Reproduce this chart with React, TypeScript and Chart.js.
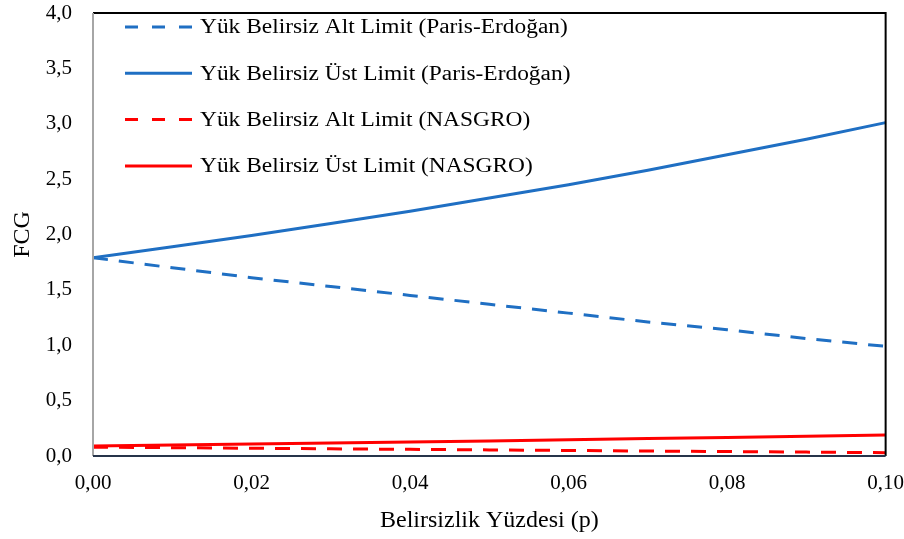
import React, { useEffect, useRef } from "react";
import { Chart, registerables } from "chart.js";

Chart.register(...registerables);

const xValues = [0, 0.01, 0.02, 0.03, 0.04, 0.05, 0.06, 0.07, 0.08, 0.09, 0.1];
const pxAltLimit = [1.79, 1.7, 1.61, 1.53, 1.45, 1.37, 1.29, 1.21, 1.14, 1.06, 0.99];
const pxUstLimit = [1.79, 1.89, 1.99, 2.1, 2.21, 2.33, 2.45, 2.58, 2.72, 2.86, 3.01];
const nasAltLimit = [0.08, 0.075, 0.07, 0.065, 0.06, 0.055, 0.05, 0.045, 0.04, 0.035, 0.03];
const nasUstLimit = [0.09, 0.099, 0.108, 0.117, 0.126, 0.136, 0.146, 0.157, 0.168, 0.179, 0.19];
const xTicks = [0, 0.02, 0.04, 0.06, 0.08, 0.1];
const seriesNames = [
  "Yük Belirsiz Alt Limit (Paris-Erdoğan)",
  "Yük Belirsiz Üst Limit (Paris-Erdoğan)",
  "Yük Belirsiz Alt Limit (NASGRO)",
  "Yük Belirsiz Üst Limit (NASGRO)",
];

const BLUE = "#1F6FC3";
const RED = "#FF0000";
const FONT = "'Liberation Serif', 'Times New Roman', serif";
const DASH = [15, 11];
const LEGEND_DASH = [13, 14];

const toPts = (ys: number[]) => ys.map((y, i) => ({ x: xValues[i], y }));

const framePlugin = {
  id: "frame",
  afterDraw(chart: any) {
    const { ctx, chartArea: a } = chart;
    ctx.save();
    ctx.lineWidth = 2;
    ctx.strokeStyle = "#000";
    ctx.beginPath();
    ctx.moveTo(a.left, a.top);
    ctx.lineTo(a.right, a.top);
    ctx.lineTo(a.right, a.bottom);
    ctx.stroke();
    ctx.strokeStyle = "#A6A6A6";
    ctx.beginPath();
    ctx.moveTo(a.left, a.top);
    ctx.lineTo(a.left, a.bottom);
    ctx.stroke();
    ctx.strokeStyle = "#26344A";
    ctx.beginPath();
    ctx.moveTo(a.left, a.bottom);
    ctx.lineTo(a.right, a.bottom);
    ctx.stroke();
    ctx.restore();
  },
};

const legendPlugin = {
  id: "innerLegend",
  afterDraw(chart: any) {
    const { ctx, chartArea: a } = chart;
    ctx.save();
    ctx.font = `20px ${FONT}`;
    ctx.textBaseline = "middle";
    ctx.fillStyle = "#000";
    chart.data.datasets.forEach((ds: any, i: number) => {
      const y = 27 + i * 46.3 + (a.top - 13);
      const x0 = a.left + 32;
      ctx.strokeStyle = ds.borderColor;
      ctx.lineWidth = ds.borderWidth;
      ctx.setLineDash(ds.borderDash ? LEGEND_DASH : []);
      ctx.beginPath();
      ctx.moveTo(x0, y);
      ctx.lineTo(x0 + 67, y);
      ctx.stroke();
      ctx.setLineDash([]);
      ctx.save();
      ctx.translate(x0 + 75, y + 1);
      ctx.scale(1.17, 1);
      ctx.fillText(ds.label, 0, 0);
      ctx.restore();
    });
    ctx.restore();
  },
};

export default function App() {
  const ref = useRef<HTMLCanvasElement>(null);
  useEffect(() => {
    document.body.style.margin = "0";
    const chart = new Chart(ref.current!, {
      type: "line",
      data: {
        datasets: [
          { label: seriesNames[0], data: toPts(pxAltLimit), borderColor: BLUE, borderWidth: 3, borderDash: DASH },
          { label: seriesNames[1], data: toPts(pxUstLimit), borderColor: BLUE, borderWidth: 3 },
          { label: seriesNames[2], data: toPts(nasAltLimit), borderColor: RED, borderWidth: 3, borderDash: DASH },
          { label: seriesNames[3], data: toPts(nasUstLimit), borderColor: RED, borderWidth: 3 },
        ] as any,
      },
      options: {
        animation: false,
        responsive: false,
        maintainAspectRatio: false,
        layout: { padding: { left: 0, right: 0, top: 0, bottom: 0 } },
        elements: { point: { radius: 0 }, line: { tension: 0, fill: false } },
        plugins: { legend: { display: false }, tooltip: { enabled: false } },
        scales: {
          x: {
            type: "linear",
            min: 0,
            max: 0.1,
            afterBuildTicks: (s: any) => {
              s.ticks = xTicks.map((v) => ({ value: v }));
            },
            afterFit: (s: any) => {
              s.height = 83;
            },
            grid: { display: false, drawTicks: true, tickLength: 15 },
            border: { display: false },
            ticks: {
              padding: 0,
              color: "#000",
              font: { family: FONT, size: 21 },
              maxRotation: 0,
              callback: (v: any) => Number(v).toFixed(2).replace(".", ","),
            },
            title: {
              display: true,
              text: "Belirsizlik Yüzdesi (p)",
              color: "#000",
              font: { family: FONT, size: 24 },
              padding: { top: 0, bottom: 4 },
            },
          },
          y: {
            type: "linear",
            min: 0,
            max: 4,
            ticks: {
              stepSize: 0.5,
              padding: 21,
              color: "#000",
              font: { family: FONT, size: 21 },
              callback: (v: any) => Number(v).toFixed(1).replace(".", ","),
            },
            afterFit: (s: any) => {
              s.width = 93;
              s.paddingTop = 13;
              s.paddingBottom = 13;
            },
            grid: { display: false, drawTicks: false },
            border: { display: false },
            title: {
              display: true,
              text: "FCG",
              color: "#000",
              font: { family: FONT, size: 24 },
              padding: { top: 8, bottom: 0 },
            },
          },
        },
      } as any,
      plugins: [framePlugin, legendPlugin],
    });
    return () => chart.destroy();
  }, []);
  return (
    <div style={{ position: "absolute", left: 0, top: 0, width: 904, height: 539, background: "#fff" }}>
      <canvas ref={ref} width={904} height={539} style={{ width: 904, height: 539 }} />
    </div>
  );
}
